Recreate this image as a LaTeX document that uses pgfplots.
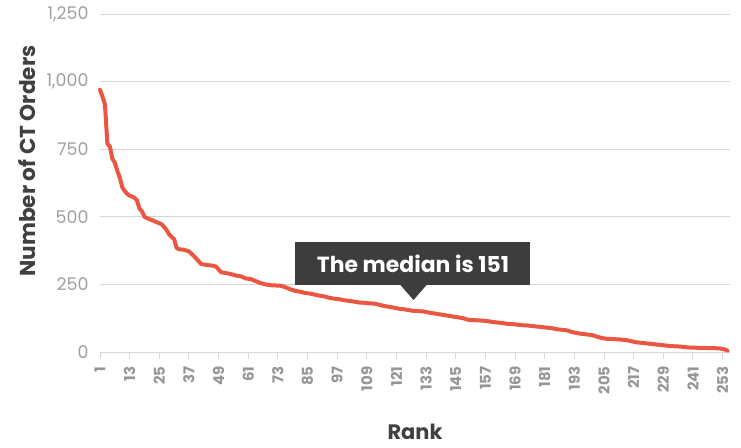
\documentclass[border=0pt]{standalone}
\usepackage{fontspec}
\setmainfont{Poppins}
\usepackage{pgfplots}
\pgfplotsset{compat=1.18}
\definecolor{lineRed}{RGB}{234,86,66}
\definecolor{gridGray}{RGB}{214,214,214}
\definecolor{tickGray}{RGB}{160,160,160}
\definecolor{xtickGray}{RGB}{150,150,150}
\definecolor{labelDark}{RGB}{64,64,64}
\definecolor{boxDark}{RGB}{61,61,61}
\begin{document}
\begin{tikzpicture}
\begin{axis}[
  scale only axis,
  width=630bp, height=338bp,
  xmin=1, xmax=256,
  ymin=0, ymax=1250,
  axis y line*=left,
  axis x line*=bottom,
  y axis line style={draw=none},
  x axis line style={draw=gridGray, line width=1pt},
  ytick={0,250,500,750,1000,1250},
  ymajorgrids,
  grid style={draw=gridGray, line width=0.9pt},
  xtick={1,13,...,253},
  xtick style={draw=gridGray, line width=1pt},
  tick align=outside,
  major tick length=7bp,
  ytick style={draw=none},
  /pgf/number format/.cd, 1000 sep={,}, assume math mode=true,
  /pgfplots/.cd,
  yticklabel style={font=\fontsize{17.5}{17.5}\selectfont, text=tickGray, anchor=east, xshift=-1bp},
  xticklabel style={font=\fontsize{15}{15}\selectfont\bfseries, text=xtickGray, rotate=90, anchor=east, xshift=-4bp},
  xlabel={Rank},
  ylabel={Number of CT Orders},
  xlabel style={font=\fontsize{21}{21}\selectfont\bfseries, text=labelDark, at={(axis description cs:0.5,-0.237)}, anchor=center},
  ylabel style={font=\fontsize{21.7}{21.7}\selectfont\bfseries, text=labelDark, at={(axis description cs:-0.116,0.565)}, anchor=center},
  clip=false,
]
\addplot[lineRed, line width=4pt, line join=round, line cap=round] coordinates {
(1,970) (2,945) (3,915) (4,770) (5,760) (6,715) (7,700) (8,670) (9,645) (10,610)
(11,595) (12,585) (13,578) (14,575) (15,570) (16,560) (17,530) (18,520) (19,500) (20,495)
(22,488) (24,480) (26,472) (27,462) (28,450) (29,435) (30,425) (31,418) (32,385) (33,380)
(35,378) (37,372) (39,355) (41,335) (42,325) (44,322) (46,320) (48,316) (49,305) (50,295)
(52,292) (54,288) (56,283) (58,280) (60,272) (62,270) (64,262) (66,255) (68,250) (70,247)
(72,246) (74,245) (76,240) (78,232) (80,226) (82,223) (84,218) (86,216) (88,212) (90,208)
(92,205) (94,200) (96,197) (98,195) (100,191) (102,189) (104,186) (106,183) (108,182) (110,180)
(112,179) (114,175) (116,170) (118,167) (120,164) (122,160) (124,158) (126,155) (128,152) (130,151)
(132,150) (134,146) (136,143) (138,140) (140,137) (142,134) (144,131) (146,128) (148,125) (150,119)
(152,118) (154,117) (156,116) (158,114) (160,111) (162,109) (164,107) (166,104) (168,103) (170,101)
(172,99) (174,98) (176,96) (178,94) (180,92) (182,90) (184,88) (186,84) (188,82) (190,80)
(192,74) (194,70) (196,67) (198,65) (200,63) (202,57) (204,52) (206,49) (208,48) (210,47)
(212,46) (214,44) (216,40) (218,36) (220,34) (222,32) (224,30) (226,28) (228,26) (230,24)
(232,22) (234,21) (236,20) (238,18) (240,16) (242,16) (244,15) (246,15) (248,14) (250,14)
(252,13) (254,9) (255,5)
};
\end{axis}
% callout
\fill[boxDark] (195bp,67bp) rectangle (430bp,110bp);
\fill[boxDark] (300bp,67.5bp) -- (327bp,67.5bp) -- (313.5bp,52bp) -- cycle;
\node[text=white, font=\fontsize{22}{22}\selectfont\bfseries] at (313bp,88.5bp) {The median is 151};
\pgfresetboundingbox
\path (-100bp,-96bp) rectangle (641bp,352bp);
\end{tikzpicture}
\end{document}
